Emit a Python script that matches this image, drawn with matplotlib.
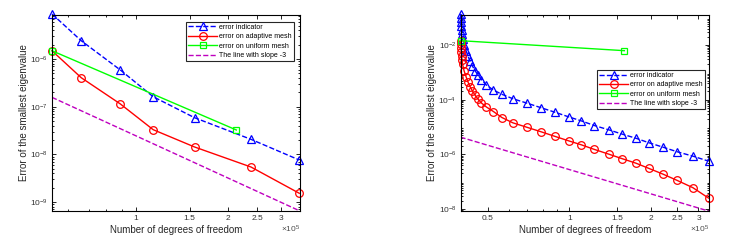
import matplotlib.pyplot as plt
from matplotlib.ticker import FixedLocator, NullFormatter

plt.rcParams['font.family'] = ['Liberation Sans', 'DejaVu Sans']
plt.rcParams['mathtext.fontset'] = 'custom'
plt.rcParams['mathtext.rm'] = 'Liberation Sans'
plt.rcParams['mathtext.it'] = 'Liberation Sans'

# ---- left panel data ----
left_x = [0.530e5, 0.661e5, 0.889e5, 1.139e5, 1.558e5, 2.387e5, 3.44e5]
left_indicator = [8.8e-6, 2.42e-6, 5.88e-7, 1.62e-7, 5.88e-8, 2.07e-8, 7.63e-9]
left_adaptive = [1.49e-6, 4.06e-7, 1.14e-7, 3.30e-8, 1.43e-8, 5.44e-9, 1.53e-9]
left_uniform_x = [0.530e5, 2.137e5]
left_uniform = [1.49e-6, 3.25e-8]
left_slope_x = [0.530e5, 3.44e5]
left_slope = [1.57e-7, 6.6e-10]

# ---- right panel data ----
right_x = [0.3970e5, 0.3977e5, 0.3984e5, 0.3994e5, 0.4004e5, 0.4018e5, 0.4038e5,
           0.4090e5, 0.4160e5, 0.4231e5, 0.4303e5, 0.4395e5, 0.4490e5, 0.4605e5,
           0.4744e5, 0.4949e5, 0.5251e5, 0.5644e5, 0.6195e5, 0.6964e5, 0.7874e5,
           0.8881e5, 0.9941e5, 1.107e5, 1.239e5, 1.398e5, 1.571e5, 1.760e5,
           1.970e5, 2.218e5, 2.504e5, 2.860e5, 3.267e5]
right_indicator = [0.139, 0.0966, 0.0690, 0.0493, 0.0361, 0.0258, 0.0163,
                   0.0103, 6.19e-3, 3.90e-3, 2.56e-3, 1.68e-3, 1.15e-3, 7.91e-4,
                   5.42e-4, 3.41e-4, 2.24e-4, 1.57e-4, 1.08e-4, 7.52e-5, 5.06e-5,
                   3.44e-5, 2.36e-5, 1.68e-5, 1.13e-5, 7.91e-6, 5.46e-6, 3.90e-6,
                   2.65e-6, 1.83e-6, 1.24e-6, 8.59e-7, 5.65e-7]
right_adaptive = [0.01435, 0.01069, 7.97e-3, 5.69e-3, 4.07e-3, 2.91e-3, 1.99e-3,
                  1.15e-3, 6.97e-4, 4.39e-4, 3.01e-4, 2.06e-4, 1.47e-4, 1.05e-4,
                  7.52e-5, 5.37e-5, 3.68e-5, 2.22e-5, 1.42e-5, 9.84e-6, 6.68e-6,
                  4.50e-6, 3.13e-6, 2.24e-6, 1.51e-6, 1.02e-6, 6.90e-7, 4.78e-7,
                  3.05e-7, 1.89e-7, 1.11e-7, 6.04e-8, 2.52e-8]
right_uniform_x = [0.397e5, 1.598e5]
right_uniform = [0.01435, 6.19e-3]
right_slope_x = [0.397e5, 3.267e5]
right_slope = [4.25e-6, 8.45e-9]

labels = ['error indicator', 'error on adaptive mesh', 'error on uniform mesh',
          'The line with slope -3']


def draw_panel(ax, x, ind, ada, ux, uni, sx, sl, xlim, ylim, xticks, xticklabels,
               yticks, yticklabels, legend_anchor):
    ax.loglog(x, ind, '--^', color='b', lw=1, ms=6, mfc='none', mew=0.9,
              clip_on=False, label=labels[0])
    ax.loglog(x, ada, '-o', color='r', lw=1, ms=5.5, mfc='none', mew=0.9,
              clip_on=False, label=labels[1])
    ax.loglog(ux, uni, '-s', color=(0, 1, 0), lw=1, ms=5, mfc='none', mew=0.9,
              clip_on=False, label=labels[2])
    ax.loglog(sx, sl, '--', color='m', lw=1, label=labels[3])
    ax.set_xlim(xlim)
    ax.set_ylim(ylim)
    ax.xaxis.set_major_locator(FixedLocator(xticks))
    ax.set_xticklabels(xticklabels)
    ax.xaxis.set_minor_formatter(NullFormatter())
    ax.set_yticks(yticks)
    ax.set_yticklabels(yticklabels)
    ax.yaxis.set_minor_formatter(NullFormatter())
    ax.tick_params(which='both', direction='in', top=True, right=True,
                   labelsize=6, width=0.6, pad=3, labelcolor='0.2')
    ax.tick_params(which='major', length=3)
    ax.tick_params(which='minor', length=1.5)
    for s in ax.spines.values():
        s.set_linewidth(0.8)
    ax.set_xlabel('Number of degrees of freedom', fontsize=7, labelpad=2,
                  color='0.15')
    ax.set_ylabel('Error of the smallest eigenvalue', fontsize=7, labelpad=1,
                  color='0.15')
    ax.text(1.0, -0.095, r'$\times10^{5}$', transform=ax.transAxes, fontsize=6,
            ha='right', va='center', color='0.3')
    leg = ax.legend(loc='upper right', bbox_to_anchor=legend_anchor, fontsize=5,
                    handlelength=4.2, handletextpad=0.3, borderpad=0.3,
                    labelspacing=0.35, fancybox=False, framealpha=1,
                    edgecolor='0.15', borderaxespad=0)
    leg.get_frame().set_linewidth(0.8)


fig = plt.figure(figsize=(7.41, 2.41), dpi=100)
ax1 = fig.add_axes([0.0702, 0.1245, 0.3347, 0.8145])
ax2 = fig.add_axes([0.6215, 0.1258, 0.3353, 0.8132])

draw_panel(ax1, left_x, left_indicator, left_adaptive, left_uniform_x, left_uniform,
           left_slope_x, left_slope, (0.53e5, 3.46e5), (6.5e-10, 8.5e-6),
           [1e5, 1.5e5, 2e5, 2.5e5, 3e5], ['1', '1.5', '2', '2.5', '3'],
           [1e-9, 1e-8, 1e-7, 1e-6],
           [r'$10^{-9}$', r'$10^{-8}$', r'$10^{-7}$', r'$10^{-6}$'],
           (0.976, 0.964))

draw_panel(ax2, right_x, right_indicator, right_adaptive, right_uniform_x,
           right_uniform, right_slope_x, right_slope, (0.397e5, 3.28e5),
           (8.7e-9, 0.128),
           [0.5e5, 1e5, 1.5e5, 2e5, 2.5e5, 3e5], ['0.5', '1', '1.5', '2', '2.5', '3'],
           [1e-8, 1e-6, 1e-4, 1e-2],
           [r'$10^{-8}$', r'$10^{-6}$', r'$10^{-4}$', r'$10^{-2}$'],
           (0.984, 0.718))

fig.savefig('out.png', dpi=100)
